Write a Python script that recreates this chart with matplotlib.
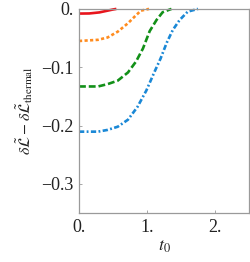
import matplotlib
matplotlib.use('Agg')
import matplotlib.pyplot as plt

# curves (t0, value)
t_red = [0.0, 0.15, 0.3, 0.4, 0.5, 0.55]
v_red = [-0.008, -0.0078, -0.006, -0.0035, -0.001, 0.0]

t_orange = [0.0, 0.28, 0.42, 0.57, 0.72, 0.82, 0.91, 1.03]
v_orange = [-0.055, -0.053, -0.049, -0.039, -0.0246, -0.013, -0.003, 0.0]

t_green = [0.0, 0.28, 0.42, 0.57, 0.72, 0.84, 0.94, 1.04, 1.14, 1.23, 1.36]
v_green = [-0.133, -0.133, -0.129, -0.123, -0.109, -0.09, -0.068, -0.038, -0.019, -0.0057, 0.0]

t_blue = [0.0, 0.28, 0.42, 0.57, 0.72, 0.86, 0.99, 1.11, 1.2, 1.29, 1.38, 1.48, 1.6, 1.75]
v_blue = [-0.2105, -0.2105, -0.2075, -0.202, -0.19, -0.168, -0.14, -0.108, -0.085, -0.058,
          -0.036, -0.019, -0.0046, 0.0]

x_ticks = [0, 1, 2]
x_labels = ['0.', '1.', '2.']
y_ticks = [0, -0.1, -0.2, -0.3]
y_labels = ['0.', '\u22120.1', '\u22120.2', '\u22120.3']

plt.rcParams['font.family'] = ['Liberation Serif', 'DejaVu Serif']
plt.rcParams['mathtext.fontset'] = 'stix'

fig = plt.figure(figsize=(2.5, 2.62), dpi=100)
ax = fig.add_axes([0.316, 0.187, 0.68, 0.779])

lw = 1.9
ax.plot(t_red, v_red, color='#e8141c', lw=lw, clip_on=False, solid_capstyle='butt')
ax.plot(t_orange, v_orange, color='#ff8c1f', lw=lw, dashes=(1.2, 0.9), clip_on=False)
ax.plot(t_green, v_green, color='#129018', lw=lw, dashes=(2.6, 1.1), clip_on=False)
ax.plot(t_blue, v_blue, color='#1a88d6', lw=lw, dashes=(2.0, 0.9, 0.7, 0.9), clip_on=False)

ax.set_xlim(0, 2.5)
ax.set_ylim(-0.35, 0)
ax.set_xticks(x_ticks)
ax.set_xticklabels(x_labels)
ax.set_yticks(y_ticks)
ax.set_yticklabels(y_labels)
ax.tick_params(direction='in', length=2.5, width=0.6, color='#999999', labelsize=13,
               labelcolor='#222222', pad=4)
for s in ax.spines.values():
    s.set_color('#9a9a9a')
    s.set_linewidth(0.9)

ax.set_xlabel(r'$t_0$', fontsize=13, labelpad=2, color='#222222')
ax.set_ylabel(r'$\delta\tilde{\mathcal{L}}-\delta\tilde{\mathcal{L}}_{\mathrm{thermal}}$',
              fontsize=11.5, labelpad=4, color='#222222')

fig.savefig('out.png', dpi=100)
